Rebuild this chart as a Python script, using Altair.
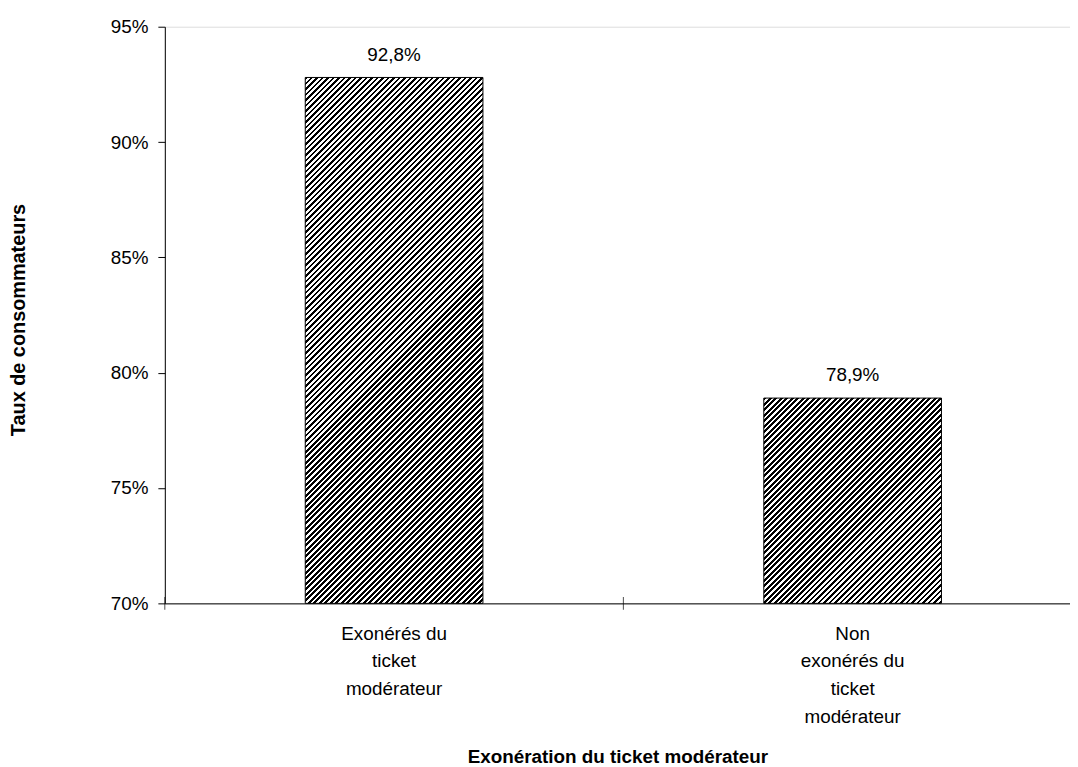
import json
import altair as alt
import pandas as pd

# ---------------- data ----------------
categories = ["Exonérés du ticket modérateur", "Non exonérés du ticket modérateur"]
category_lines = [["Exonérés du", "ticket", "modérateur"],
                  ["Non", "exonérés du", "ticket", "modérateur"]]
rates = [0.928, 0.789]
y_ticks = [0.70, 0.75, 0.80, 0.85, 0.90, 0.95]
y_title = "Taux de consommateurs"
x_title = "Exonération du ticket modérateur"

# ---------------- style / layout ----------------
FONT = "Liberation Sans"
FS = 19
W = 912          # plot width
H = 581          # plot height
STEP = 462       # distance between bar centres
BW = 179         # bar width
Y_MIN, Y_MAX = 0.70, 0.95
CELLS = 256

P_IN = 1 - BW / STEP
P_OUT = (W / STEP - 2 + P_IN) / 2
ALIGN = (STEP / 2 - BW / 2) / (W - STEP * (2 - P_IN))
TICK_SHIFT = -(STEP - BW) / 2   # from bar edge back to the category boundary

df = pd.DataFrame({"cat": categories, "v": rates})

expr = "datum.value"
for c, l in reversed(list(zip(categories, category_lines))):
    expr = f"datum.value == {json.dumps(c, ensure_ascii=False)} ? {json.dumps(l, ensure_ascii=False)} : ({expr})"

xscale = alt.Scale(domain=categories, paddingInner=P_IN, paddingOuter=P_OUT, align=ALIGN)
yscale = alt.Scale(domain=[Y_MIN, Y_MAX], zero=False, nice=False)

x_axis = alt.Axis(title=x_title, labelExpr=expr, labelAngle=0, labelAlign="center",
                  labelBaseline="top", labelPadding=21, labelLineHeight=28,
                  labelFontSize=FS, labelLimit=0, ticks=False, grid=False,
                  domainColor="black",
                  titleFontSize=FS, titleFontWeight="bold", titleY=160,
                  titleBaseline="alphabetic")
y_axis = alt.Axis(title=y_title, values=y_ticks, format=".0%", ticks=True,
                  tickSize=7, tickColor="black", tickWidth=1,
                  labelPadding=10, labelFontSize=FS, grid=False, domainColor="black",
                  titleFontSize=20, titleFontWeight="bold", titleX=-141, titleY=295,
                  titleBaseline="alphabetic")

# hatch (diagonal stripes) as a hard-stop linear gradient, same stripe spacing on both bars
BH = [(v - Y_MIN) / (Y_MAX - Y_MIN) * H for v in rates]
C = BW + max(BH)


def hatch(bh):
    s = C / (BW * BW + bh * bh)
    stops = []
    for k in range(CELLS // 2):
        a = 2 * k / CELLS
        b = (2 * k + 1) / CELLS
        e = (2 * k + 2) / CELLS
        stops += [alt.GradientStop(color="black", offset=a),
                  alt.GradientStop(color="black", offset=b),
                  alt.GradientStop(color="white", offset=b),
                  alt.GradientStop(color="white", offset=e)]
    return alt.LinearGradient(gradient="linear", stops=stops,
                              x1=0, y1=0, x2=s * BW, y2=s * bh)


layers = []
for c, bh in zip(categories, BH):
    layers.append(
        alt.Chart(df).transform_filter(alt.datum.cat == c)
        .mark_bar(fill=hatch(bh), stroke="black", strokeWidth=1)
        .encode(x=alt.X("cat:N", scale=xscale, axis=x_axis),
                y=alt.Y("v:Q", scale=yscale, axis=y_axis),
                y2=alt.Y2Datum(Y_MIN))
    )

text = (
    alt.Chart(df)
    .transform_calculate(label="replace(format(datum.v, '.1%'), '.', ',')")
    .mark_text(dy=-17, baseline="alphabetic", fontSize=FS, font=FONT, color="black")
    .encode(x=alt.X("cat:N", scale=xscale, axis=x_axis),
            y=alt.Y("v:Q", scale=yscale, axis=y_axis),
            text="label:N")
)

xticks = (
    alt.Chart(df)
    .mark_tick(orient="vertical", size=13, thickness=1, color="black", xOffset=TICK_SHIFT)
    .encode(x=alt.X("cat:N", bandPosition=0, scale=xscale, axis=x_axis),
            y=alt.YDatum(Y_MIN, type="quantitative", scale=yscale, axis=y_axis))
)

chart = (
    alt.layer(*layers, text, xticks)
    .properties(width=W, height=H,
                padding={"left": 158, "top": 16, "right": 0, "bottom": 162},
                autosize=alt.AutoSizeParams(type="none"),
                background="white")
    .configure_view(stroke="white", strokeWidth=0, fill="white")
    .configure(font=FONT)
    .configure_axis(labelFont=FONT, titleFont=FONT, labelColor="black",
                    titleColor="black", domainWidth=1, grid=False)
)

chart.save("out.html", embed_options={"renderer": "svg", "actions": False})
